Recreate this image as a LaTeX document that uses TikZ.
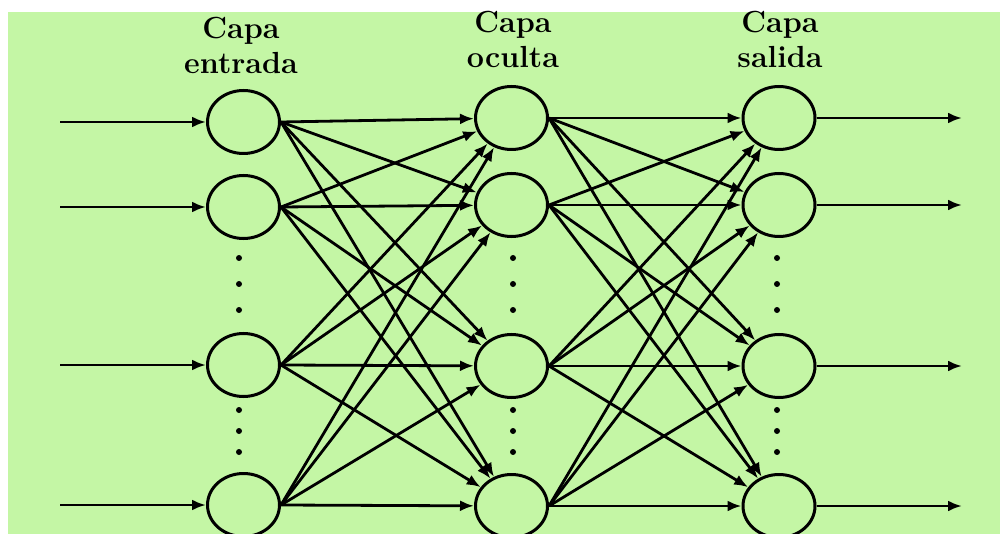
\documentclass[tikz,border=0pt]{standalone}
\usepackage{fontspec}
\usetikzlibrary{arrows.meta,shapes.geometric}
\definecolor{bg}{RGB}{196,246,165}
\begin{document}
\begin{tikzpicture}[x=1pt,y=-1pt,
  neuron/.style={ellipse,draw=black,line width=3pt,minimum width=72pt,minimum height=63pt,inner sep=0pt},
  conn/.style={line width=2.8pt,-{Latex[length=14pt,width=11pt]}},
  head/.style={font=\fontsize{30.5}{35}\selectfont\bfseries,align=center,anchor=base,inner sep=0pt},
  dotnode/.style={circle,fill=black,inner sep=0pt,minimum size=6pt}]
\useasboundingbox (0,0) rectangle (1000,534);
\fill[white] (0,0) rectangle (1000,534);
\fill[bg] (8,12) rectangle (1000,534);

% headers (anchor base = baseline of the last line)
\node[head] (hin) at (241,74) {Capa\\entrada};
\node[head] (hhid) at (513,68) {Capa\\oculta};
\node[head] (hout) at (780,68) {Capa\\salida};

% neurons
\foreach \n/\y in {1/122,2/207,3/365,4/505} {
  \node[neuron] (i\n) at (243.5,\y) {};
  \coordinate (s\n) at (60,\y);
}
\foreach \n/\y in {1/118,2/205,3/366,4/506} {
  \node[neuron] (h\n) at (511.5,\y) {};
  \node[neuron] (o\n) at (779,\y) {};
  \coordinate (e\n) at (962,\y);
}

% dots
\foreach \x/\l in {239/a,513/b,777/c} {
  \foreach \y/\k in {258/1,284/2,310/3,410/4,431/5,452/6} {
    \node[dotnode] (d\l\k) at (\x,\y) {};
  }
}

% connections
\foreach \n in {1,...,4} {
  \draw[conn] (s\n) -- (i\n);
  \draw[conn] (o\n) -- (e\n);
}
\foreach \a in {1,...,4} {
  \foreach \b in {1,...,4} {
    \draw[conn] (i\a.east) -- (h\b);
    \draw[conn] (h\a.east) -- (o\b);
  }
}
\end{tikzpicture}
\end{document}
